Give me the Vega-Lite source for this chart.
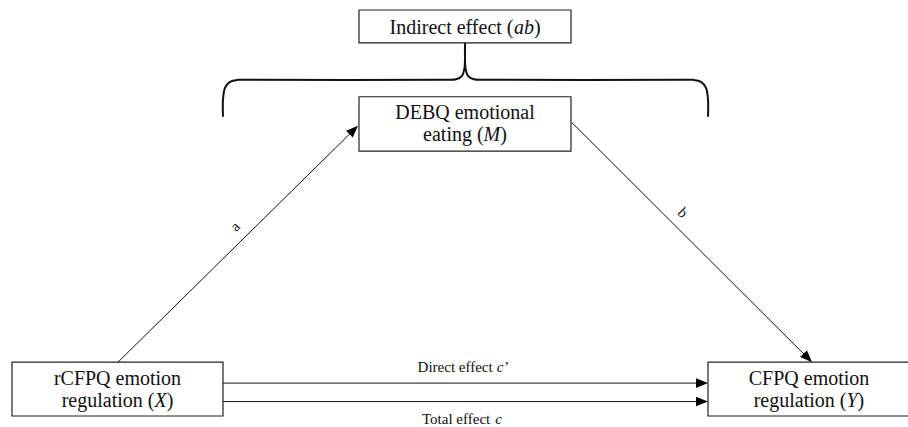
{
  "$schema": "https://vega.github.io/schema/vega-lite/v6.json",
  "width": 908,
  "height": 427,
  "padding": 0,
  "autosize": {"type": "fit", "contains": "padding"},
  "background": "white",
  "config": {"view": {"stroke": null}},
  "datasets": {
    "boxes": [
      {"name": "Indirect", "x1": 359, "x2": 571, "y1": 10, "y2": 43},
      {"name": "M", "x1": 359, "x2": 571, "y1": 97, "y2": 151.5},
      {"name": "X", "x1": 12, "x2": 223, "y1": 363, "y2": 417},
      {"name": "Y", "x1": 708, "x2": 915, "y1": 363, "y2": 417}
    ],
    "brace": [
      {"side": "L", "i": 0, "x": 223, "y": 117},
      {"side": "L", "i": 1, "x": 223, "y": 100},
      {"side": "L", "i": 2, "x": 225, "y": 88},
      {"side": "L", "i": 3, "x": 230, "y": 82},
      {"side": "L", "i": 4, "x": 238, "y": 80},
      {"side": "L", "i": 5, "x": 250, "y": 80},
      {"side": "L", "i": 6, "x": 445, "y": 80},
      {"side": "L", "i": 7, "x": 456, "y": 79.5},
      {"side": "L", "i": 8, "x": 462, "y": 76},
      {"side": "L", "i": 9, "x": 464.5, "y": 68},
      {"side": "L", "i": 10, "x": 465, "y": 58},
      {"side": "L", "i": 11, "x": 465, "y": 43},
      {"side": "R", "i": 0, "x": 708, "y": 117},
      {"side": "R", "i": 1, "x": 708, "y": 100},
      {"side": "R", "i": 2, "x": 706, "y": 88},
      {"side": "R", "i": 3, "x": 701, "y": 82},
      {"side": "R", "i": 4, "x": 693, "y": 80},
      {"side": "R", "i": 5, "x": 681, "y": 80},
      {"side": "R", "i": 6, "x": 485, "y": 80},
      {"side": "R", "i": 7, "x": 474, "y": 79.5},
      {"side": "R", "i": 8, "x": 468, "y": 76},
      {"side": "R", "i": 9, "x": 465.5, "y": 68},
      {"side": "R", "i": 10, "x": 465, "y": 58},
      {"side": "R", "i": 11, "x": 465, "y": 43}
    ],
    "paths": [
      {"path": "a", "x1": 118, "y1": 363, "x2": 354, "y2": 130},
      {"path": "b", "x1": 572, "y1": 123, "x2": 808, "y2": 359},
      {"path": "direct", "x1": 223, "y1": 384, "x2": 702, "y2": 384},
      {"path": "total", "x1": 223, "y1": 402.5, "x2": 702, "y2": 402.5}
    ],
    "heads": [
      {"path": "a", "x": 353.7, "y": 130.2, "dir": -44.65},
      {"path": "b", "x": 807.8, "y": 358.8, "dir": 45},
      {"path": "direct", "x": 702, "y": 384, "dir": 0},
      {"path": "total", "x": 702, "y": 402.5, "dir": 0}
    ],
    "texts": [
      {"role": "box", "text": "DEBQ emotional", "x": 465, "y": 119},
      {"role": "box", "text": "rCFPQ emotion", "x": 117.5, "y": 386},
      {"role": "box", "text": "CFPQ emotion", "x": 809, "y": 386},
      {"role": "boxpart", "text": "Indirect effect (", "x": 389.5, "y": 34.5},
      {"role": "var", "text": "ab", "x": 513.9, "y": 34.5},
      {"role": "boxpart", "text": ")", "x": 533.9, "y": 34.5},
      {"role": "boxpart", "text": "eating (", "x": 423.1, "y": 141.5},
      {"role": "var", "text": "M", "x": 483.6, "y": 141.5},
      {"role": "boxpart", "text": ")", "x": 500.3, "y": 141.5},
      {"role": "boxpart", "text": "regulation (", "x": 61.7, "y": 408},
      {"role": "var", "text": "X", "x": 154.5, "y": 408},
      {"role": "boxpart", "text": ")", "x": 166.7, "y": 408},
      {"role": "boxpart", "text": "regulation (", "x": 753.7, "y": 408},
      {"role": "var", "text": "Y", "x": 846.5, "y": 408},
      {"role": "boxpart", "text": ")", "x": 857.6, "y": 408},
      {"role": "edge", "text": "Direct effect ", "x": 417.6, "y": 372.5},
      {"role": "edgevar", "text": "c’", "x": 496.7, "y": 372.5},
      {"role": "edge", "text": "Total effect ", "x": 422, "y": 425},
      {"role": "edgevar", "text": "c", "x": 495.3, "y": 425}
    ],
    "coefs": [
      {"text": "a", "x": 235, "y": 227, "dir": -45},
      {"text": "b", "x": 683, "y": 213, "dir": 45}
    ]
  },
  "encoding": {
    "x": {"type": "quantitative", "scale": {"domain": [0, 908], "nice": false, "zero": false}, "axis": null},
    "y": {"type": "quantitative", "scale": {"domain": [0, 427], "nice": false, "zero": false, "reverse": true}, "axis": null}
  },
  "layer": [
    {
      "data": {"name": "boxes"},
      "mark": {"type": "rect", "fill": "white", "stroke": "#222", "strokeWidth": 1.2, "clip": true},
      "encoding": {
        "x": {"field": "x1", "type": "quantitative"},
        "x2": {"field": "x2"},
        "y": {"field": "y1", "type": "quantitative"},
        "y2": {"field": "y2"}
      }
    },
    {
      "data": {"name": "brace"},
      "mark": {"type": "line", "interpolate": "catmull-rom", "color": "#111", "strokeWidth": 2},
      "encoding": {
        "x": {"field": "x", "type": "quantitative"},
        "y": {"field": "y", "type": "quantitative"},
        "detail": {"field": "side"},
        "order": {"field": "i", "type": "quantitative"}
      }
    },
    {
      "data": {"name": "paths"},
      "mark": {"type": "rule", "color": "#111"},
      "encoding": {
        "x": {"field": "x1", "type": "quantitative"},
        "y": {"field": "y1", "type": "quantitative"},
        "x2": {"field": "x2"},
        "y2": {"field": "y2"},
        "strokeWidth": {"field": "path", "type": "nominal", "scale": {"domain": ["a", "b", "direct", "total"], "range": [1, 1, 1.3, 2.2]}, "legend": null}
      }
    },
    {
      "data": {"name": "heads"},
      "mark": {"type": "point", "shape": "M1,0L-1,-0.8L-1,0.8Z", "filled": true, "color": "#000", "opacity": 1, "size": 144},
      "encoding": {
        "x": {"field": "x", "type": "quantitative"},
        "y": {"field": "y", "type": "quantitative"},
        "angle": {"field": "dir", "type": "quantitative", "scale": null}
      }
    },
    {
      "data": {"name": "texts"},
      "transform": [{"filter": "datum.role === 'box'"}],
      "mark": {"type": "text", "font": "Liberation Serif", "fontSize": 20, "align": "center", "baseline": "alphabetic", "color": "#111"},
      "encoding": {
        "x": {"field": "x", "type": "quantitative"},
        "y": {"field": "y", "type": "quantitative"},
        "text": {"field": "text"}
      }
    },
    {
      "data": {"name": "texts"},
      "transform": [{"filter": "datum.role === 'boxpart'"}],
      "mark": {"type": "text", "font": "Liberation Serif", "fontSize": 20, "align": "left", "baseline": "alphabetic", "color": "#111"},
      "encoding": {
        "x": {"field": "x", "type": "quantitative"},
        "y": {"field": "y", "type": "quantitative"},
        "text": {"field": "text"}
      }
    },
    {
      "data": {"name": "texts"},
      "transform": [{"filter": "datum.role === 'var'"}],
      "mark": {"type": "text", "font": "Liberation Serif", "fontSize": 20, "fontStyle": "italic", "align": "left", "baseline": "alphabetic", "color": "#111"},
      "encoding": {
        "x": {"field": "x", "type": "quantitative"},
        "y": {"field": "y", "type": "quantitative"},
        "text": {"field": "text"}
      }
    },
    {
      "data": {"name": "texts"},
      "transform": [{"filter": "datum.role === 'edge'"}],
      "mark": {"type": "text", "font": "Liberation Serif", "fontSize": 15, "align": "left", "baseline": "alphabetic", "color": "#111"},
      "encoding": {
        "x": {"field": "x", "type": "quantitative"},
        "y": {"field": "y", "type": "quantitative"},
        "text": {"field": "text"}
      }
    },
    {
      "data": {"name": "texts"},
      "transform": [{"filter": "datum.role === 'edgevar'"}],
      "mark": {"type": "text", "font": "Liberation Serif", "fontSize": 15, "fontStyle": "italic", "align": "left", "baseline": "alphabetic", "color": "#111"},
      "encoding": {
        "x": {"field": "x", "type": "quantitative"},
        "y": {"field": "y", "type": "quantitative"},
        "text": {"field": "text"}
      }
    },
    {
      "data": {"name": "coefs"},
      "mark": {"type": "text", "font": "Liberation Serif", "fontSize": 15, "align": "center", "baseline": "middle", "color": "#111"},
      "encoding": {
        "x": {"field": "x", "type": "quantitative"},
        "y": {"field": "y", "type": "quantitative"},
        "text": {"field": "text"},
        "angle": {"field": "dir", "type": "quantitative", "scale": null}
      }
    }
  ]
}
